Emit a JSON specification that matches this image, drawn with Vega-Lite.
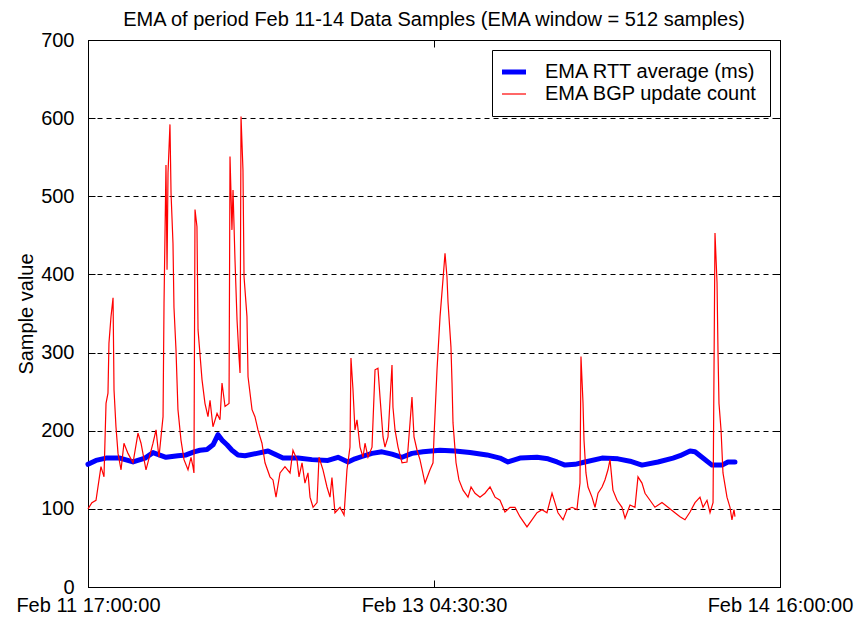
{
  "$schema": "https://vega.github.io/schema/vega-lite/v6.json",
  "width": 692,
  "height": 547,
  "autosize": {"type": "none"},
  "padding": {"left": 88, "top": 40, "right": 79, "bottom": 35},
  "background": "white",
  "title": {"text": "EMA of period Feb 11-14 Data Samples (EMA window = 512 samples)", "fontSize": 20, "fontWeight": "normal", "font": "Liberation Sans", "color": "black", "offset": 0, "anchor": "middle"},
  "datasets": {
    "rtt": [
      {"t": 0, "v": 157}, {"t": 0.82, "v": 162}, {"t": 1.85, "v": 165}, {"t": 3.28, "v": 165}, {"t": 4.62, "v": 160},
      {"t": 5.85, "v": 165}, {"t": 6.67, "v": 172}, {"t": 8.0, "v": 166}, {"t": 9.23, "v": 168}, {"t": 10.06, "v": 169},
      {"t": 10.88, "v": 173}, {"t": 11.49, "v": 175}, {"t": 12.21, "v": 176}, {"t": 12.83, "v": 182}, {"t": 13.34, "v": 195},
      {"t": 13.75, "v": 188}, {"t": 14.26, "v": 182}, {"t": 14.77, "v": 175}, {"t": 15.39, "v": 169}, {"t": 16.11, "v": 168},
      {"t": 17.34, "v": 171}, {"t": 18.47, "v": 174}, {"t": 20.01, "v": 165}, {"t": 21.55, "v": 165}, {"t": 22.98, "v": 163},
      {"t": 24.62, "v": 162}, {"t": 25.65, "v": 166}, {"t": 26.68, "v": 160}, {"t": 27.39, "v": 164}, {"t": 28.11, "v": 167},
      {"t": 29.14, "v": 171}, {"t": 30.16, "v": 173}, {"t": 31.19, "v": 170}, {"t": 32.22, "v": 166}, {"t": 33.24, "v": 171},
      {"t": 34.37, "v": 173}, {"t": 36.12, "v": 175}, {"t": 37.65, "v": 174}, {"t": 39.19, "v": 172}, {"t": 40.94, "v": 169},
      {"t": 42.27, "v": 165}, {"t": 43.09, "v": 160}, {"t": 44.32, "v": 165}, {"t": 46.07, "v": 166}, {"t": 47.2, "v": 164},
      {"t": 48.12, "v": 160}, {"t": 48.94, "v": 156}, {"t": 49.97, "v": 157}, {"t": 50.99, "v": 160}, {"t": 52.74, "v": 165},
      {"t": 54.38, "v": 164}, {"t": 55.61, "v": 161}, {"t": 56.84, "v": 156}, {"t": 58.48, "v": 160}, {"t": 60.02, "v": 165},
      {"t": 60.74, "v": 168}, {"t": 61.77, "v": 174}, {"t": 62.28, "v": 173}, {"t": 63.0, "v": 166}, {"t": 64.02, "v": 156},
      {"t": 65.05, "v": 156}, {"t": 65.66, "v": 160}, {"t": 66.38, "v": 160}
    ],
    "bgp": [
      {"t": 0, "v": 100}, {"t": 0.4, "v": 108}, {"t": 0.82, "v": 111}, {"t": 1.33, "v": 154}, {"t": 1.64, "v": 141},
      {"t": 1.85, "v": 235}, {"t": 2.05, "v": 248}, {"t": 2.15, "v": 312}, {"t": 2.36, "v": 346}, {"t": 2.57, "v": 370},
      {"t": 2.67, "v": 252}, {"t": 2.87, "v": 205}, {"t": 3.08, "v": 171}, {"t": 3.39, "v": 150}, {"t": 3.69, "v": 184},
      {"t": 4.1, "v": 171}, {"t": 4.62, "v": 159}, {"t": 5.13, "v": 197}, {"t": 5.44, "v": 184}, {"t": 5.95, "v": 150},
      {"t": 6.67, "v": 184}, {"t": 6.98, "v": 201}, {"t": 7.28, "v": 166}, {"t": 7.7, "v": 218}, {"t": 7.8, "v": 363},
      {"t": 8.0, "v": 540}, {"t": 8.11, "v": 406}, {"t": 8.21, "v": 530}, {"t": 8.41, "v": 592}, {"t": 8.52, "v": 504},
      {"t": 8.72, "v": 440}, {"t": 8.82, "v": 358}, {"t": 9.03, "v": 303}, {"t": 9.23, "v": 227}, {"t": 9.54, "v": 188},
      {"t": 9.85, "v": 163}, {"t": 10.26, "v": 150}, {"t": 10.57, "v": 166}, {"t": 10.77, "v": 154}, {"t": 10.87, "v": 146},
      {"t": 10.98, "v": 483}, {"t": 11.18, "v": 461}, {"t": 11.29, "v": 329}, {"t": 11.7, "v": 265}, {"t": 12.0, "v": 235},
      {"t": 12.31, "v": 218}, {"t": 12.52, "v": 239}, {"t": 12.82, "v": 205}, {"t": 13.24, "v": 222}, {"t": 13.54, "v": 214},
      {"t": 13.75, "v": 261}, {"t": 14.06, "v": 231}, {"t": 14.47, "v": 235}, {"t": 14.57, "v": 551}, {"t": 14.77, "v": 457},
      {"t": 14.88, "v": 508}, {"t": 15.08, "v": 419}, {"t": 15.29, "v": 342}, {"t": 15.49, "v": 295}, {"t": 15.6, "v": 274},
      {"t": 15.7, "v": 602}, {"t": 15.9, "v": 534}, {"t": 16.01, "v": 397}, {"t": 16.31, "v": 346}, {"t": 16.42, "v": 269},
      {"t": 16.83, "v": 227}, {"t": 17.13, "v": 218}, {"t": 17.44, "v": 201}, {"t": 17.85, "v": 184}, {"t": 18.16, "v": 159},
      {"t": 18.67, "v": 141}, {"t": 18.98, "v": 137}, {"t": 19.29, "v": 115}, {"t": 19.7, "v": 146}, {"t": 20.21, "v": 154},
      {"t": 20.73, "v": 146}, {"t": 21.03, "v": 175}, {"t": 21.44, "v": 163}, {"t": 21.65, "v": 141}, {"t": 21.96, "v": 159},
      {"t": 22.26, "v": 133}, {"t": 22.57, "v": 146}, {"t": 22.78, "v": 115}, {"t": 23.09, "v": 102}, {"t": 23.5, "v": 108},
      {"t": 23.7, "v": 166}, {"t": 24.11, "v": 150}, {"t": 24.52, "v": 128}, {"t": 24.83, "v": 115}, {"t": 25.03, "v": 140},
      {"t": 25.34, "v": 95}, {"t": 25.86, "v": 102}, {"t": 26.27, "v": 92}, {"t": 26.57, "v": 150}, {"t": 26.88, "v": 179},
      {"t": 26.98, "v": 293}, {"t": 27.19, "v": 252}, {"t": 27.39, "v": 201}, {"t": 27.6, "v": 214}, {"t": 27.91, "v": 179},
      {"t": 28.22, "v": 166}, {"t": 28.42, "v": 184}, {"t": 28.73, "v": 166}, {"t": 29.14, "v": 179}, {"t": 29.45, "v": 278},
      {"t": 29.75, "v": 280}, {"t": 29.96, "v": 243}, {"t": 30.27, "v": 192}, {"t": 30.47, "v": 179}, {"t": 30.78, "v": 192},
      {"t": 31.19, "v": 284}, {"t": 31.29, "v": 230}, {"t": 31.5, "v": 201}, {"t": 31.81, "v": 179}, {"t": 32.22, "v": 159},
      {"t": 32.73, "v": 160}, {"t": 33.04, "v": 210}, {"t": 33.24, "v": 243}, {"t": 33.45, "v": 192}, {"t": 33.76, "v": 175},
      {"t": 34.06, "v": 163}, {"t": 34.58, "v": 133}, {"t": 35.09, "v": 150}, {"t": 35.4, "v": 159}, {"t": 35.5, "v": 192},
      {"t": 35.81, "v": 278}, {"t": 36.12, "v": 346}, {"t": 36.42, "v": 393}, {"t": 36.63, "v": 427}, {"t": 36.83, "v": 397},
      {"t": 36.94, "v": 364}, {"t": 37.24, "v": 307}, {"t": 37.35, "v": 261}, {"t": 37.45, "v": 210}, {"t": 37.76, "v": 159},
      {"t": 38.06, "v": 137}, {"t": 38.48, "v": 124}, {"t": 38.99, "v": 115}, {"t": 39.3, "v": 128}, {"t": 39.71, "v": 120},
      {"t": 40.22, "v": 115}, {"t": 40.73, "v": 120}, {"t": 41.25, "v": 128}, {"t": 41.76, "v": 115}, {"t": 42.27, "v": 111},
      {"t": 42.78, "v": 96}, {"t": 43.3, "v": 102}, {"t": 43.81, "v": 102}, {"t": 44.32, "v": 90}, {"t": 45.04, "v": 77},
      {"t": 45.55, "v": 86}, {"t": 46.07, "v": 95}, {"t": 46.58, "v": 99}, {"t": 47.09, "v": 95}, {"t": 47.61, "v": 120},
      {"t": 47.91, "v": 108}, {"t": 48.22, "v": 95}, {"t": 48.74, "v": 86}, {"t": 49.15, "v": 99}, {"t": 49.66, "v": 102},
      {"t": 50.17, "v": 99}, {"t": 50.27, "v": 111}, {"t": 50.48, "v": 133}, {"t": 50.58, "v": 295}, {"t": 50.79, "v": 235},
      {"t": 50.89, "v": 188}, {"t": 51.09, "v": 146}, {"t": 51.3, "v": 128}, {"t": 51.71, "v": 115}, {"t": 52.02, "v": 102},
      {"t": 52.33, "v": 120}, {"t": 52.74, "v": 128}, {"t": 53.04, "v": 137}, {"t": 53.35, "v": 150}, {"t": 53.56, "v": 163},
      {"t": 53.86, "v": 124}, {"t": 54.28, "v": 111}, {"t": 54.79, "v": 102}, {"t": 55.1, "v": 88}, {"t": 55.61, "v": 105},
      {"t": 56.12, "v": 102}, {"t": 56.43, "v": 141}, {"t": 56.84, "v": 133}, {"t": 57.15, "v": 120}, {"t": 57.66, "v": 111},
      {"t": 58.17, "v": 102}, {"t": 58.89, "v": 108}, {"t": 59.51, "v": 102}, {"t": 60.22, "v": 95}, {"t": 60.74, "v": 90},
      {"t": 61.25, "v": 86}, {"t": 61.77, "v": 96}, {"t": 62.28, "v": 108}, {"t": 62.79, "v": 115}, {"t": 63.1, "v": 102},
      {"t": 63.51, "v": 111}, {"t": 63.82, "v": 95}, {"t": 64.13, "v": 108}, {"t": 64.33, "v": 453}, {"t": 64.54, "v": 389},
      {"t": 64.64, "v": 300}, {"t": 64.74, "v": 235}, {"t": 64.95, "v": 201}, {"t": 65.15, "v": 146}, {"t": 65.56, "v": 115},
      {"t": 65.87, "v": 102}, {"t": 66.07, "v": 86}, {"t": 66.28, "v": 99}, {"t": 66.38, "v": 90}
    ]
  },
  "layer": [
    {
      "data": {"name": "rtt"},
      "mark": {"type": "line", "strokeWidth": 5, "strokeJoin": "round", "strokeCap": "round"},
      "encoding": {
        "x": {"field": "t", "type": "quantitative", "scale": {"domain": [0, 71], "nice": false},
          "axis": {"orient": "bottom", "title": null, "values": [0, 35.5, 71],
            "labelExpr": "datum.value == 0 ? 'Feb 11 17:00:00' : (datum.value == 71 ? 'Feb 14 16:00:00' : 'Feb 13 04:30:30')",
            "grid": false, "tickSize": -7, "labelPadding": 15, "labelFontSize": 20, "labelFlush": false, "labelOverlap": false, "labelBound": false}},
        "y": {"field": "v", "type": "quantitative", "scale": {"domain": [0, 700], "nice": false},
          "axis": {"orient": "left", "title": "Sample value", "values": [0, 100, 200, 300, 400, 500, 600, 700],
            "titleFontSize": 20, "titleFontWeight": "normal", "titlePadding": 4,
            "grid": true, "gridDash": [5, 4], "gridColor": "black", "gridOpacity": 1, "gridWidth": 1,
            "tickSize": -7, "labelPadding": 21, "labelFontSize": 20, "labelOverlap": false}},
        "color": {"datum": "EMA RTT average (ms)", "type": "nominal",
          "scale": {"domain": ["EMA RTT average (ms)", "EMA BGP update count"], "range": ["#0000ff", "#ff0000"]},
          "legend": {"title": null, "orient": "top-right", "offset": 10, "padding": 12,
            "strokeColor": "black", "fillColor": "white", "cornerRadius": 0,
            "labelFontSize": 20, "labelColor": "black", "labelLimit": 400, "labelOffset": 21,
            "symbolType": "stroke", "symbolSize": 576, "symbolStrokeWidth": 1.2, "rowPadding": 2,
            "encode": {"symbols": {"update": {"strokeWidth": {"signal": "datum.value === 'EMA RTT average (ms)' ? 5 : 1.2"}}}}}}
      }
    },
    {
      "data": {"name": "bgp"},
      "mark": {"type": "line", "strokeWidth": 1.2},
      "encoding": {
        "x": {"field": "t", "type": "quantitative", "axis": null},
        "y": {"field": "v", "type": "quantitative", "axis": null},
        "color": {"datum": "EMA BGP update count", "type": "nominal"}
      }
    },
    {
      "data": {"name": "rtt"},
      "mark": {"type": "line", "opacity": 0},
      "encoding": {
        "x": {"field": "t", "type": "quantitative",
          "axis": {"orient": "top", "title": null, "values": [0, 35.5, 71], "labels": false, "grid": false, "tickSize": -7}},
        "y": {"field": "v", "type": "quantitative",
          "axis": {"orient": "right", "title": null, "values": [0, 100, 200, 300, 400, 500, 600, 700], "labels": false, "grid": false, "tickSize": -7}}
      }
    }
  ],
  "resolve": {"axis": {"x": "independent", "y": "independent"}},
  "config": {
    "font": "Liberation Sans",
    "view": {"stroke": "black", "strokeWidth": 1},
    "axis": {"labelFont": "Liberation Sans", "titleFont": "Liberation Sans", "domainColor": "black", "tickColor": "black", "labelColor": "black", "titleColor": "black", "domainWidth": 1, "tickWidth": 1},
    "legend": {"labelFont": "Liberation Sans"}
  }
}
